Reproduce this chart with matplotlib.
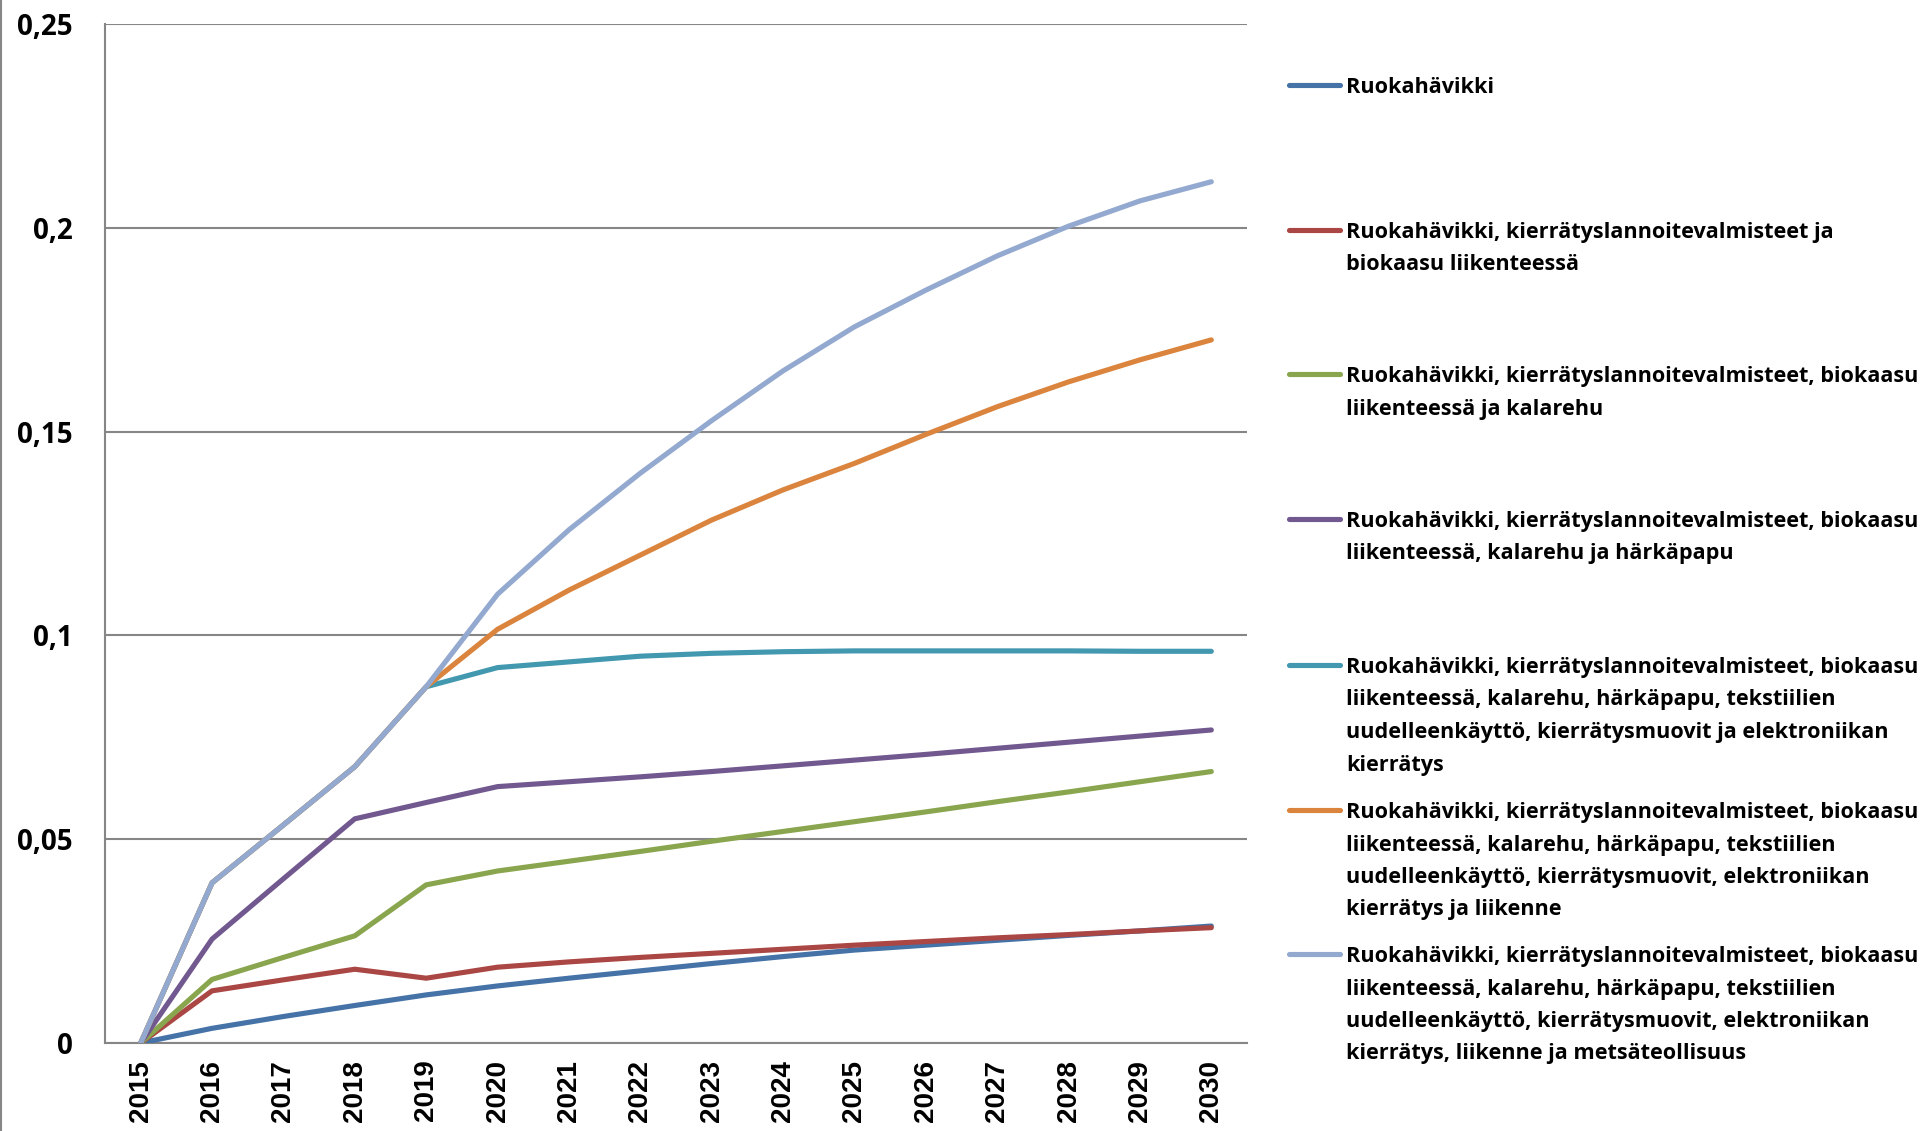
import matplotlib
matplotlib.use("Agg")
import matplotlib.pyplot as plt
from matplotlib.lines import Line2D

years = ["2015", "2016", "2017", "2018", "2019", "2020", "2021", "2022",
         "2023", "2024", "2025", "2026", "2027", "2028", "2029", "2030"]

ruokahavikki = [0.0, 0.0036, 0.0065, 0.0092, 0.0118, 0.0140, 0.0159, 0.0177,
                0.0195, 0.0212, 0.0228, 0.0240, 0.0252, 0.0264, 0.0275, 0.0287]
lannoite = [0.0, 0.0128, 0.0155, 0.0181, 0.0159, 0.0186, 0.0199, 0.0210,
            0.0220, 0.0230, 0.0240, 0.0249, 0.0258, 0.0266, 0.0275, 0.0283]
kalarehu = [0.0, 0.0156, 0.0210, 0.0263, 0.0388, 0.0422, 0.0446, 0.0470,
            0.0495, 0.0519, 0.0543, 0.0567, 0.0592, 0.0616, 0.0641, 0.0666]
harkapapu = [0.0, 0.0255, 0.0403, 0.0550, 0.0590, 0.0629, 0.0641, 0.0653,
             0.0666, 0.0680, 0.0694, 0.0708, 0.0723, 0.0738, 0.0753, 0.0768]
elektroniikka = [0.0, 0.0393, 0.0535, 0.0678, 0.0874, 0.0921, 0.0935, 0.0949,
                 0.0956, 0.0960, 0.0962, 0.0962, 0.0962, 0.0962, 0.0961, 0.0961]
liikenne = [0.0, 0.0393, 0.0535, 0.0678, 0.0874, 0.1015, 0.1111, 0.1197,
            0.1283, 0.1357, 0.1422, 0.1493, 0.1561, 0.1622, 0.1676, 0.1725]
metsa = [0.0, 0.0393, 0.0535, 0.0678, 0.0874, 0.1101, 0.1259, 0.1398,
         0.1527, 0.1649, 0.1757, 0.1847, 0.1931, 0.2004, 0.2066, 0.2113]

series = [ruokahavikki, lannoite, kalarehu, harkapapu, elektroniikka, liikenne, metsa]

labels = [
    "Ruokahävikki",
    "Ruokahävikki, kierrätyslannoitevalmisteet ja\nbiokaasu liikenteessä",
    "Ruokahävikki, kierrätyslannoitevalmisteet, biokaasu\nliikenteessä ja kalarehu",
    "Ruokahävikki, kierrätyslannoitevalmisteet, biokaasu\nliikenteessä, kalarehu ja härkäpapu",
    "Ruokahävikki, kierrätyslannoitevalmisteet, biokaasu\nliikenteessä, kalarehu, härkäpapu, tekstiilien\nuudelleenkäyttö, kierrätysmuovit ja elektroniikan\nkierrätys",
    "Ruokahävikki, kierrätyslannoitevalmisteet, biokaasu\nliikenteessä, kalarehu, härkäpapu, tekstiilien\nuudelleenkäyttö, kierrätysmuovit, elektroniikan\nkierrätys ja liikenne",
    "Ruokahävikki, kierrätyslannoitevalmisteet, biokaasu\nliikenteessä, kalarehu, härkäpapu, tekstiilien\nuudelleenkäyttö, kierrätysmuovit, elektroniikan\nkierrätys, liikenne ja metsäteollisuus",
]

colors = ["#4572A7", "#AA4643", "#89A54E", "#71588F", "#4198AF", "#DB843D", "#93A9CF"]

y_ticks = [0, 0.05, 0.1, 0.15, 0.2, 0.25]
y_tick_labels = ["0", "0,05", "0,1", "0,15", "0,2", "0,25"]

W, H = 1930, 1131
fig = plt.figure(figsize=(W / 100, H / 100), dpi=100)
ax = fig.add_axes([105 / W, 1 - 1043 / H, (1247 - 105) / W, (1043 - 24) / H])

x = list(range(len(years)))
for s, c in zip(series, colors):
    ax.plot(x, s, color=c, lw=3.7, solid_capstyle="round", solid_joinstyle="round", zorder=3)

grid_c = "#868686"
ax.set_xlim(-0.5, len(years) - 0.5)
ax.set_ylim(0, 0.25)
ax.set_yticks(y_ticks)
ax.set_yticklabels(y_tick_labels, fontfamily="Open Sans", fontweight="bold", fontsize=20)
ax.set_xticks(x)
ax.set_xticklabels(years, rotation=90, fontfamily="Liberation Sans", fontweight="bold",
                   fontsize=20, va="top")
ax.tick_params(axis="both", length=0)
ax.tick_params(axis="y", pad=23)
ax.tick_params(axis="x", pad=12)
ax.yaxis.grid(True, color=grid_c, lw=1.5, zorder=1)
ax.set_axisbelow(True)
for side in ["top", "right"]:
    ax.spines[side].set_visible(False)
for side in ["left", "bottom"]:
    ax.spines[side].set_color(grid_c)
    ax.spines[side].set_linewidth(1.5)
    ax.spines[side].set_zorder(2)

# outer border on left edge
fig.add_artist(Line2D([1 / W, 1 / W], [0, 1], transform=fig.transFigure, color=grid_c, lw=1.5))

# legend (manual, evenly spaced Excel-style)
first_line_y = [85, 230, 374, 519, 665, 810, 954]
line_gap = 32.5
for lab, c, yc in zip(labels, colors, first_line_y):
    fig.add_artist(Line2D([1289 / W, 1340 / W], [1 - yc / H, 1 - yc / H],
                          transform=fig.transFigure, color=c, lw=3.7, solid_capstyle="round"))
    for k, line in enumerate(lab.split("\n")):
        yy = yc + k * line_gap
        fig.text(1346 / W, 1 - yy / H, line, fontfamily="Open Sans", fontweight="bold",
                 fontsize=15.6, va="center_baseline", ha="left")

fig.savefig("out.png", dpi=100)
